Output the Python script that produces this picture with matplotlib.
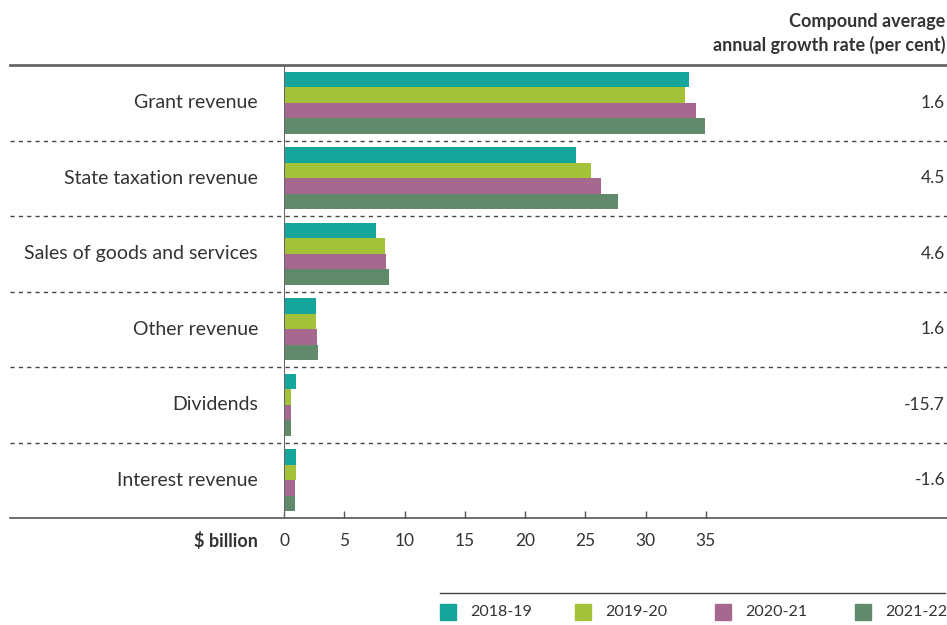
import numpy as np
import matplotlib
matplotlib.use("Agg")
import matplotlib.pyplot as plt
from matplotlib.patches import Rectangle

plt.rcParams['font.family'] = ['Lato', 'DejaVu Sans']

categories = ["Grant revenue", "State taxation revenue", "Sales of goods and services",
              "Other revenue", "Dividends", "Interest revenue"]
years = ["2018-19", "2019-20", "2020-21", "2021-22"]
values = {
    "2018-19": [33.6, 24.2, 7.6, 2.65, 1.0, 1.0],
    "2019-20": [33.25, 25.5, 8.4, 2.65, 0.6, 1.0],
    "2020-21": [34.2, 26.3, 8.5, 2.75, 0.6, 0.9],
    "2021-22": [34.9, 27.7, 8.7, 2.85, 0.6, 0.9],
}
growth = ["1.6", "4.5", "4.6", "1.6", "-15.7", "-1.6"]
xticks = [0, 5, 10, 15, 20, 25, 30, 35]
colors = ["#15a59b", "#a4c13a", "#a5698f", "#618a6d"]

W, H = 947, 625
fig = plt.figure(figsize=(W / 100, H / 100), dpi=100)
left, right, top, bottom = 284, 947, 65, 518
ax = fig.add_axes([left / W, 1 - bottom / H, (right - left) / W, (bottom - top) / H])

y = np.arange(len(categories))
bh = 0.205
for i, yr in enumerate(years):
    ax.barh(y + (i - 1.5) * bh, values[yr], height=bh, color=colors[i], zorder=2)

ax.set_xlim(0, 55)
ax.set_ylim(len(categories) - 0.5, -0.5)
for s in ax.spines.values():
    s.set_visible(False)
ax.set_yticks([])
ax.set_xticks(xticks)
ax.set_xticklabels([str(t) for t in xticks], fontsize=12.5, color="#333333")
ax.tick_params(axis="x", direction="in", length=5, width=1, color="#555555", pad=11)

x0 = (10 - left) / (right - left)
ytr = ax.get_yaxis_transform()
# top and bottom rules
ax.plot([x0, 1], [-0.5, -0.5], transform=ytr, color="#666666", lw=2, clip_on=False, zorder=3)
ax.plot([x0, 1], [5.5, 5.5], transform=ytr, color="#555555", lw=1.2, clip_on=False, zorder=3)
# dashed separators
for k in range(1, len(categories)):
    ax.plot([x0, 1], [k - 0.5, k - 0.5], transform=ytr, color="#444444", lw=1,
            ls=(0, (3, 3)), clip_on=False, zorder=1)
# vertical axis line
ax.axvline(0, color="#666666", lw=1.5, zorder=3)

# category labels and growth rates
for i, c in enumerate(categories):
    ax.text(-26 / 12.06, i, c, ha="right", va="center", fontsize=14, color="#333333")
    ax.text(0.997, i, growth[i], transform=ytr, ha="right", va="center",
            fontsize=12.5, color="#333333")

fig.text(258 / W, 1 - 541 / H, "$ billion", ha="right", va="center", fontsize=13,
         fontweight="bold", color="#333333")
fig.text(945 / W, 1 - 22 / H, "Compound average", ha="right", va="center",
         fontsize=13, fontweight="bold", color="#333333")
fig.text(945 / W, 1 - 45 / H, "annual growth rate (per cent)", ha="right", va="center",
         fontsize=13, fontweight="bold", color="#333333")

# legend
fig.add_artist(plt.Line2D([440 / W, 945 / W], [1 - 593 / H, 1 - 593 / H],
                          transform=fig.transFigure, color="#444444", lw=1))
lx = [440, 575, 715, 855]
for i, yr in enumerate(years):
    fig.add_artist(Rectangle((lx[i] / W, 1 - 620 / H), 16 / W, 16 / H,
                             transform=fig.transFigure, color=colors[i]))
    fig.text((lx[i] + 30) / W, 1 - 612 / H, yr, ha="left", va="center",
             fontsize=11.5, color="#333333")

fig.savefig("out.png", dpi=100)
